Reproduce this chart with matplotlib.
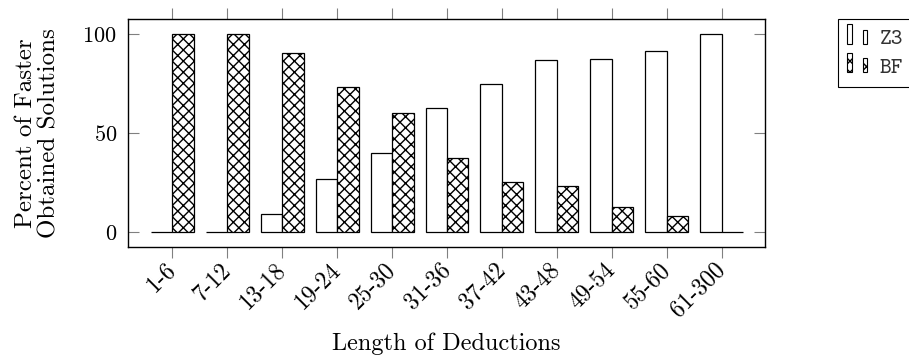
import numpy as np
import matplotlib
matplotlib.use("Agg")
import matplotlib.pyplot as plt
from matplotlib.patches import Rectangle
from matplotlib.legend_handler import HandlerBase
from matplotlib.transforms import ScaledTranslation

categories = ["1-6", "7-12", "13-18", "19-24", "25-30", "31-36",
              "37-42", "43-48", "49-54", "55-60", "61-300"]
z3 = [0, 0, 9, 27, 40, 62.5, 75, 87, 87.5, 91.5, 100]
bf = [100, 100, 90.5, 73, 60, 37.5, 25, 23, 12.5, 8, 0]

plt.rcParams["font.family"] = "cmr10"
plt.rcParams["mathtext.fontset"] = "cm"
plt.rcParams["axes.formatter.use_mathtext"] = True
plt.rcParams["hatch.linewidth"] = 1.0
plt.rcParams["font.size"] = 16


class TwoBars(HandlerBase):
    # pgfplots style ybar legend image: two little bars
    def create_artists(self, legend, orig, xd, yd, w, h, fs, trans):
        hatch = orig.get_hatch()
        out = []
        for x0, bw, fh in [(0.0, 0.24, 1.12), (0.72, 0.2, 0.8)]:
            r = Rectangle((xd + x0 * w, yd - 0.05 * h), bw * w, h * fh,
                          facecolor="white", edgecolor="black",
                          hatch=hatch, lw=0.8, transform=trans)
            out.append(r)
        return out


fig = plt.figure(figsize=(9.09, 3.56), dpi=100)
ax = fig.add_axes([0.1408, 0.3062, 0.7013, 0.6404])

x = np.arange(len(categories))
w = 0.39
b1 = ax.bar(x - w / 2, z3, w, color="white", edgecolor="black", lw=0.9, label="Z3")
b2 = ax.bar(x + w / 2, bf, w, color="white", edgecolor="black", lw=0.9,
            hatch="xxx", label="BF")

ax.set_xlim(-0.81, 10.8)
ax.set_ylim(-7.6, 107.6)
ax.set_yticks([0, 50, 100])
ax.set_xticks(x)
ax.set_xticklabels(categories, rotation=45, ha="right", va="center",
                   rotation_mode="anchor", fontsize=17)
shift = ScaledTranslation(-13 / 100, 0, fig.dpi_scale_trans)
for lab in ax.get_xticklabels():
    lab.set_transform(lab.get_transform() + shift)

ax.tick_params(axis="x", which="both", direction="out", length=8,
               color="gray", top=True, pad=6)
ax.tick_params(axis="y", which="both", direction="in", length=8,
               color="gray", right=True, pad=8)
for s in ax.spines.values():
    s.set_linewidth(1.0)

ax.set_ylabel("Percent of Faster\nObtained Solutions", labelpad=16,
              linespacing=1.05, fontsize=18)
ax.set_xlabel("Length of Deductions", fontsize=17.5, va="top")
ax.xaxis.set_label_coords(0.5, -0.375)

leg = fig.legend([b1.patches[0], b2.patches[0]], ["Z3", "BF"],
                 loc="upper left", bbox_to_anchor=(0.9216, 0.9466),
                 handler_map={Rectangle: TwoBars()},
                 prop={"family": "cmtt10", "size": 16},
                 fancybox=False, edgecolor="black", framealpha=1,
                 handlelength=1.0, handleheight=0.85, handletextpad=0.5,
                 borderpad=0.4, labelspacing=0.3, borderaxespad=0)
leg.get_frame().set_linewidth(0.8)
for t in leg.get_texts():
    t.set_color("#333333")

fig.savefig("out.png", dpi=100)
